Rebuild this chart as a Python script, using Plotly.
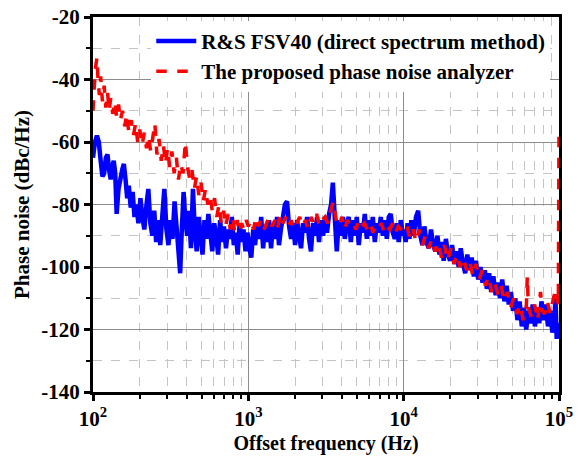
import plotly.graph_objects as go

# ---------------- data ----------------
blue_f = [100, 103, 106, 109, 112, 115, 118, 121, 124, 127, 130, 133, 136, 139, 142, 146, 150, 154, 158, 162,
          166, 170, 175, 180, 185, 190, 196, 202, 208, 214, 220, 227, 234, 241, 248, 255, 263, 271, 279, 288,
          297, 306, 315, 325, 335, 345, 355, 364, 373, 383, 393, 404, 415, 427, 440, 452, 465, 479, 493, 507,
          522, 537, 553, 569, 586, 603, 621, 639, 658, 677, 697, 718, 739, 760, 783, 806, 829, 854, 879, 905,
          931, 959, 987,
          1015, 1045, 1075, 1105, 1140, 1175, 1210, 1245, 1280, 1320, 1360, 1400, 1440, 1485, 1530, 1575, 1620,
          1670, 1720, 1775, 1830, 1885, 1940, 2000, 2060, 2120, 2185, 2250, 2320, 2390, 2460, 2530, 2610, 2690,
          2770, 2850, 2940, 3030, 3120, 3210, 3310, 3410, 3500, 3600, 3710, 3820, 3940, 4060, 4180, 4300, 4430,
          4570, 4700, 4850, 4990, 5140, 5300, 5460, 5620, 5790, 5960, 6140, 6330, 6520, 6710, 6920, 7120, 7340,
          7560, 7790, 8020, 8260, 8510, 8770, 9030, 9300, 9580, 9870,
          10000, 10300, 10600, 10900, 11200, 11600, 12000, 12400, 12800, 13200, 13600, 14000, 14500, 15000,
          15500, 16000, 16500, 17000, 17600, 18100, 18700, 19300, 19900, 20500, 21200, 21900, 22600, 23300,
          24100, 24900, 25700, 26500, 27400, 28300, 29200, 30200, 31200, 32200, 33300, 34300, 35500, 36600,
          37800, 39100, 40400, 41700, 43100, 44500, 46000, 47500, 49000, 50600, 52300, 54000, 55800, 57600,
          59500, 61500, 63500, 65600, 67700, 70000, 72300, 74600, 77100, 79600, 82200, 84900, 87700, 90600,
          93500, 95000, 96600, 98500, 100000]
blue_db = [-65, -60, -58, -60, -66, -71, -70, -65, -64, -69, -72, -68, -66, -70, -83, -75, -72, -69, -67, -72,
           -78, -74, -81, -76, -84, -80, -86, -78, -84, -88, -81, -75, -86, -90, -82, -92, -85, -93, -84, -75,
           -88, -93, -85, -91, -79, -87, -95, -102, -88, -76, -85, -90, -82, -94, -75, -88, -95, -84, -90, -96,
           -85, -91, -83, -89, -95, -86, -90, -96, -85, -92, -87, -94, -88, -91, -84, -93, -89, -96, -86, -92,
           -88, -95, -89,
           -94, -97, -88, -93, -86, -91, -84, -94, -87, -92, -85, -94, -87, -91, -84, -93, -88,
           -84, -80, -79, -87, -91, -86, -93, -85, -90, -94, -86, -89, -84, -91, -95, -86, -90,
           -84, -92, -85, -90, -84, -89, -83, -80, -73, -84, -95, -85, -90, -84, -91, -86, -84,
           -92, -85, -90, -84, -93, -86, -89, -83, -91, -85, -90, -84, -92, -86, -89, -84, -90,
           -85, -91, -84, -83, -89, -91, -86, -92, -85, -90,
           -88, -92, -86, -91, -85, -90, -84, -82, -90, -93, -87, -92, -94, -88,
           -93, -95, -90, -96, -92, -98, -91, -96, -98, -93, -99, -95, -100, -94,
           -99, -102, -96, -101, -97, -103, -98, -104, -100, -105, -101, -107, -102, -108,
           -103, -109, -105, -110, -104, -111, -106, -112, -108, -114, -110, -117, -111, -119,
           -113, -120, -114, -118, -112, -119, -113, -118, -111, -117, -112, -119, -114, -121,
           -116, -110, -123, -118, -121]

red_f = [100, 102, 104, 106, 108, 110, 112, 115, 118, 121, 124, 127, 130, 134, 138, 142, 146, 150, 155, 160,
         165, 170, 176, 182, 188, 194, 200, 207, 214, 221, 228, 235, 242, 250, 258, 266, 275, 284, 293, 302,
         312, 322, 333, 344, 355, 367, 380, 393, 406, 420, 434, 449, 464, 480, 496, 513, 530, 548, 567, 586,
         606, 626, 648, 670, 693, 716, 741, 766, 792, 819, 847, 876, 906, 937, 969,
         1000, 1040, 1080, 1120, 1160, 1210, 1260, 1310, 1360, 1420, 1480, 1540, 1600, 1670, 1740, 1810, 1890,
         1970, 2050, 2140, 2230, 2330, 2430, 2530, 2640, 2750, 2870, 2990, 3120, 3250, 3390, 3530, 3680, 3840,
         4000, 4170, 4350, 4540, 4730, 4930, 5140, 5360, 5590, 5830, 6080, 6340, 6610, 6890, 7180, 7490, 7810,
         8140, 8490, 8850, 9230, 9620,
         10000, 10500, 11000, 11500, 12000, 12600, 13200, 13800, 14500, 15200, 15900, 16700, 17500, 18300,
         19200, 20100, 21100, 22100, 23100, 24200, 25400, 26600, 27900, 29200, 30600, 32100, 33600, 35200,
         36900, 38700, 40500, 42400, 44500, 46600, 48800, 51100, 53600, 56100, 58800, 61600, 62500, 63500,
         66500, 69700, 73000, 76000, 78000, 81000, 84000, 88000, 92000, 96000, 99000, 100000]
red_db = [-50, -42, -36, -33, -41, -45, -39, -47, -42, -49, -44, -50, -46, -51, -47, -52, -48, -53, -50, -55,
          -51, -57, -53, -58, -54, -60, -56, -61, -57, -62, -58, -63, -59, -54, -64, -59, -66, -61, -67, -62,
          -68, -63, -70, -65, -72, -67, -70, -60, -68, -72, -69, -75, -71, -77, -73, -79, -75, -80, -77, -82,
          -78, -84, -80, -86, -82, -87, -83, -88, -84, -89, -85, -89, -86, -88, -85,
          -87, -85, -88, -84, -87, -85, -88, -86, -84, -87, -85, -88, -83, -86, -84, -87, -85,
          -88, -86, -84, -87, -85, -88, -84, -86, -83, -87, -85, -84, -86, -82, -79, -85, -87,
          -84, -88, -85, -87, -86, -88, -85, -87, -86, -88, -86, -89, -87, -88, -86, -89, -87,
          -88, -86, -89, -87, -88,
          -89, -87, -91, -88, -92, -88, -93, -90, -94, -91, -95, -92, -97, -93,
          -98, -94, -99, -96, -100, -97, -101, -98, -103, -99, -104, -101, -106, -103,
          -108, -105, -109, -106, -111, -108, -113, -110, -115, -112, -117, -113, -103, -113,
          -116, -112, -117, -108, -114, -115, -111, -115, -110, -107, -112, -56]

x_tickvals = [100, 1000, 10000, 100000]
x_ticktext = ["10<sup>2</sup>", "10<sup>3</sup>", "10<sup>4</sup>", "10<sup>5</sup>"]
y_tickvals = [-140, -120, -100, -80, -60, -40, -20]
y_ticktext = ["-140", "-120", "-100", "-80", "-60", "-40", "-20"]

x_minor = [m * d for d in (100, 1000, 10000) for m in range(2, 10)]
y_minor = [-130, -110, -90, -70, -50, -30]

FONT = "Liberation Serif"

fig = go.Figure()
fig.add_trace(go.Scatter(
    x=blue_f, y=blue_db, mode="lines",
    name="<b>R&S FSV40 (direct spectrum method)</b>",
    line=dict(color="#0000FF", width=4.5, simplify=False),
))
fig.add_trace(go.Scatter(
    x=red_f, y=red_db, mode="lines",
    name="<b>The proposed phase noise analyzer</b>",
    line=dict(color="#FF0000", width=3.5, dash="dash", simplify=False),
))

axis_common = dict(
    showline=True, linecolor="black", linewidth=3, mirror=True,
    ticks="outside", ticklen=6, tickwidth=2.5, tickcolor="black",
    showgrid=True, gridcolor="#8c8c8c", gridwidth=1,
    zeroline=False,
    tickfont=dict(family=FONT, size=21, color="black", weight="bold"),
)

fig.update_xaxes(
    type="log", range=[2, 5],
    tickvals=x_tickvals, ticktext=x_ticktext,
    minor=dict(tickvals=x_minor, ticks="outside", ticklen=4, tickwidth=2, tickcolor="black",
               showgrid=True, gridcolor="#c4c4c4", gridwidth=1, griddash="dash"),
    title=dict(text="<b>Offset frequency (Hz)</b>", font=dict(family=FONT, size=20, color="black"),
               standoff=6),
    **axis_common,
)
fig.update_yaxes(
    range=[-140, -20],
    tickvals=y_tickvals, ticktext=y_ticktext,
    minor=dict(tickvals=y_minor, ticks="outside", ticklen=4, tickwidth=2, tickcolor="black",
               showgrid=True, gridcolor="#c4c4c4", gridwidth=1, griddash="dash"),
    title=dict(text="<b>Phase noise (dBc/Hz)</b>", font=dict(family=FONT, size=21, color="black"),
               standoff=6),
    **axis_common,
)

fig.update_layout(
    width=581, height=456,
    margin=dict(l=93, r=22, t=17, b=64, autoexpand=False),
    paper_bgcolor="white", plot_bgcolor="white",
    showlegend=True,
    legend=dict(x=0.125, y=0.99, xanchor="left", yanchor="top",
                bgcolor="white", borderwidth=0,
                font=dict(family=FONT, size=21, color="black"),
                tracegroupgap=0, itemwidth=40),
)

fig.write_html("out.html")
